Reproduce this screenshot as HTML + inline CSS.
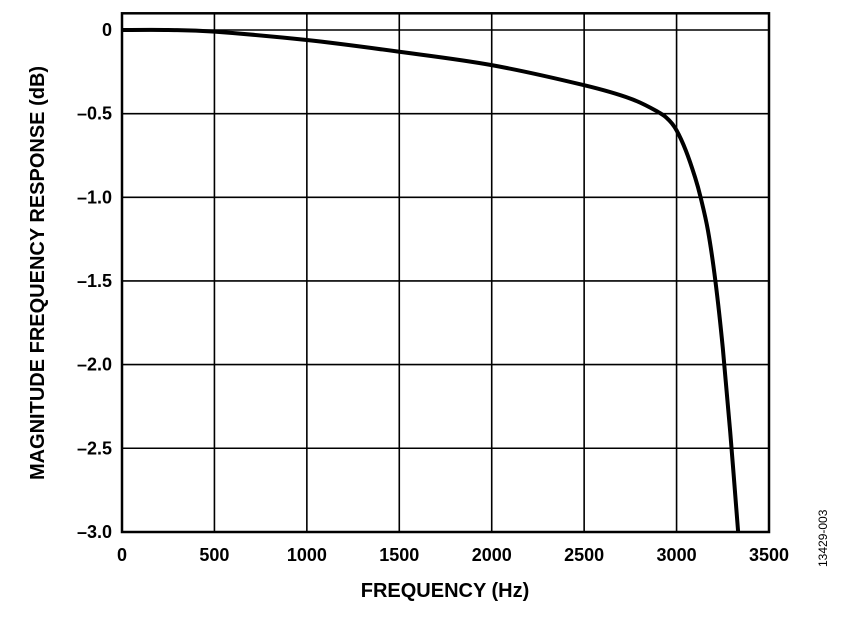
<!DOCTYPE html>
<html><head><meta charset="utf-8"><style>
body{margin:0;background:#fff;}
svg text{font-family:"Liberation Sans",Arial,sans-serif;font-weight:bold;fill:#000;}
</style></head><body>
<svg id="chart" width="859" height="615" viewBox="0 0 859 615">
<g id="grid"></g>
<g id="xticks"></g>
<g id="yticks"></g>
<path id="curve" fill="none" stroke="#000" stroke-width="4" stroke-linejoin="round"/>
<rect x="122" y="13.3" width="647" height="518.7" fill="none" stroke="#000" stroke-width="2.5"/>
<text x="445" y="597" font-size="20" text-anchor="middle">FREQUENCY (Hz)</text>
<text transform="translate(44,273) rotate(-90)" font-size="20" text-anchor="middle">MAGNITUDE FREQUENCY RESPONSE (dB)</text>
<text transform="translate(827,567) rotate(-90)" font-size="12" style="font-weight:normal">13429-003</text>
</svg>
<script>
const xTicks=[0,500,1000,1500,2000,2500,3000,3500];
const yTicks=[0,-0.5,-1.0,-1.5,-2.0,-2.5,-3.0];
const yLabels=["0","\u20130.5","\u20131.0","\u20131.5","\u20132.0","\u20132.5","\u20133.0"];
const freq=[0,250,500,1000,1500,2000,2500,2750,2900,2960,3000,3050,3100,3130,3170,3210,3250,3290,3333];
const mag=[0,0,-0.01,-0.06,-0.13,-0.21,-0.33,-0.41,-0.49,-0.54,-0.6,-0.72,-0.88,-1.0,-1.2,-1.5,-1.9,-2.4,-3.0];
const X=f=>122+f/3500*647;
const Y=d=>30+(-d)*167.3;
const NS="http://www.w3.org/2000/svg";
const grid=document.getElementById('grid'),xt=document.getElementById('xticks'),yt=document.getElementById('yticks');
xTicks.forEach(t=>{
 const l=document.createElementNS(NS,'line');
 
 
 l.setAttribute('x1',X(t));l.setAttribute('x2',X(t));l.setAttribute('y1',13.3);l.setAttribute('y2',532);
 l.setAttribute('stroke','#000');l.setAttribute('stroke-width','1.6');grid.appendChild(l);
 const tx=document.createElementNS(NS,'text');
 
 
 tx.setAttribute('x',X(t));tx.setAttribute('y',561);tx.setAttribute('font-size','18');tx.setAttribute('text-anchor','middle');
 tx.textContent=t;xt.appendChild(tx);
});
yTicks.forEach((t,i)=>{
 const l=document.createElementNS(NS,'line');
 
 
 l.setAttribute('x1',122);l.setAttribute('x2',769);l.setAttribute('y1',Y(t));l.setAttribute('y2',Y(t));
 l.setAttribute('stroke','#000');l.setAttribute('stroke-width','1.6');grid.appendChild(l);
 const tx=document.createElementNS(NS,'text');
 
 
 tx.setAttribute('x',112);tx.setAttribute('y',Y(t)+6);tx.setAttribute('font-size','18');tx.setAttribute('text-anchor','end');
 tx.textContent=yLabels[i];yt.appendChild(tx);
});
const pts=freq.map((f,i)=>[X(f),Y(mag[i])]);
let d='M'+pts[0][0]+','+pts[0][1];
for(let i=0;i<pts.length-1;i++){
 const p0=pts[Math.max(i-1,0)],p1=pts[i],p2=pts[i+1],p3=pts[Math.min(i+2,pts.length-1)];
 const c1=[p1[0]+(p2[0]-p0[0])/6,p1[1]+(p2[1]-p0[1])/6];
 const c2=[p2[0]-(p3[0]-p1[0])/6,p2[1]-(p3[1]-p1[1])/6];
 d+=' C'+c1+' '+c2+' '+p2;
}
document.getElementById('curve').setAttribute('d',d);
</script>
</body></html>
